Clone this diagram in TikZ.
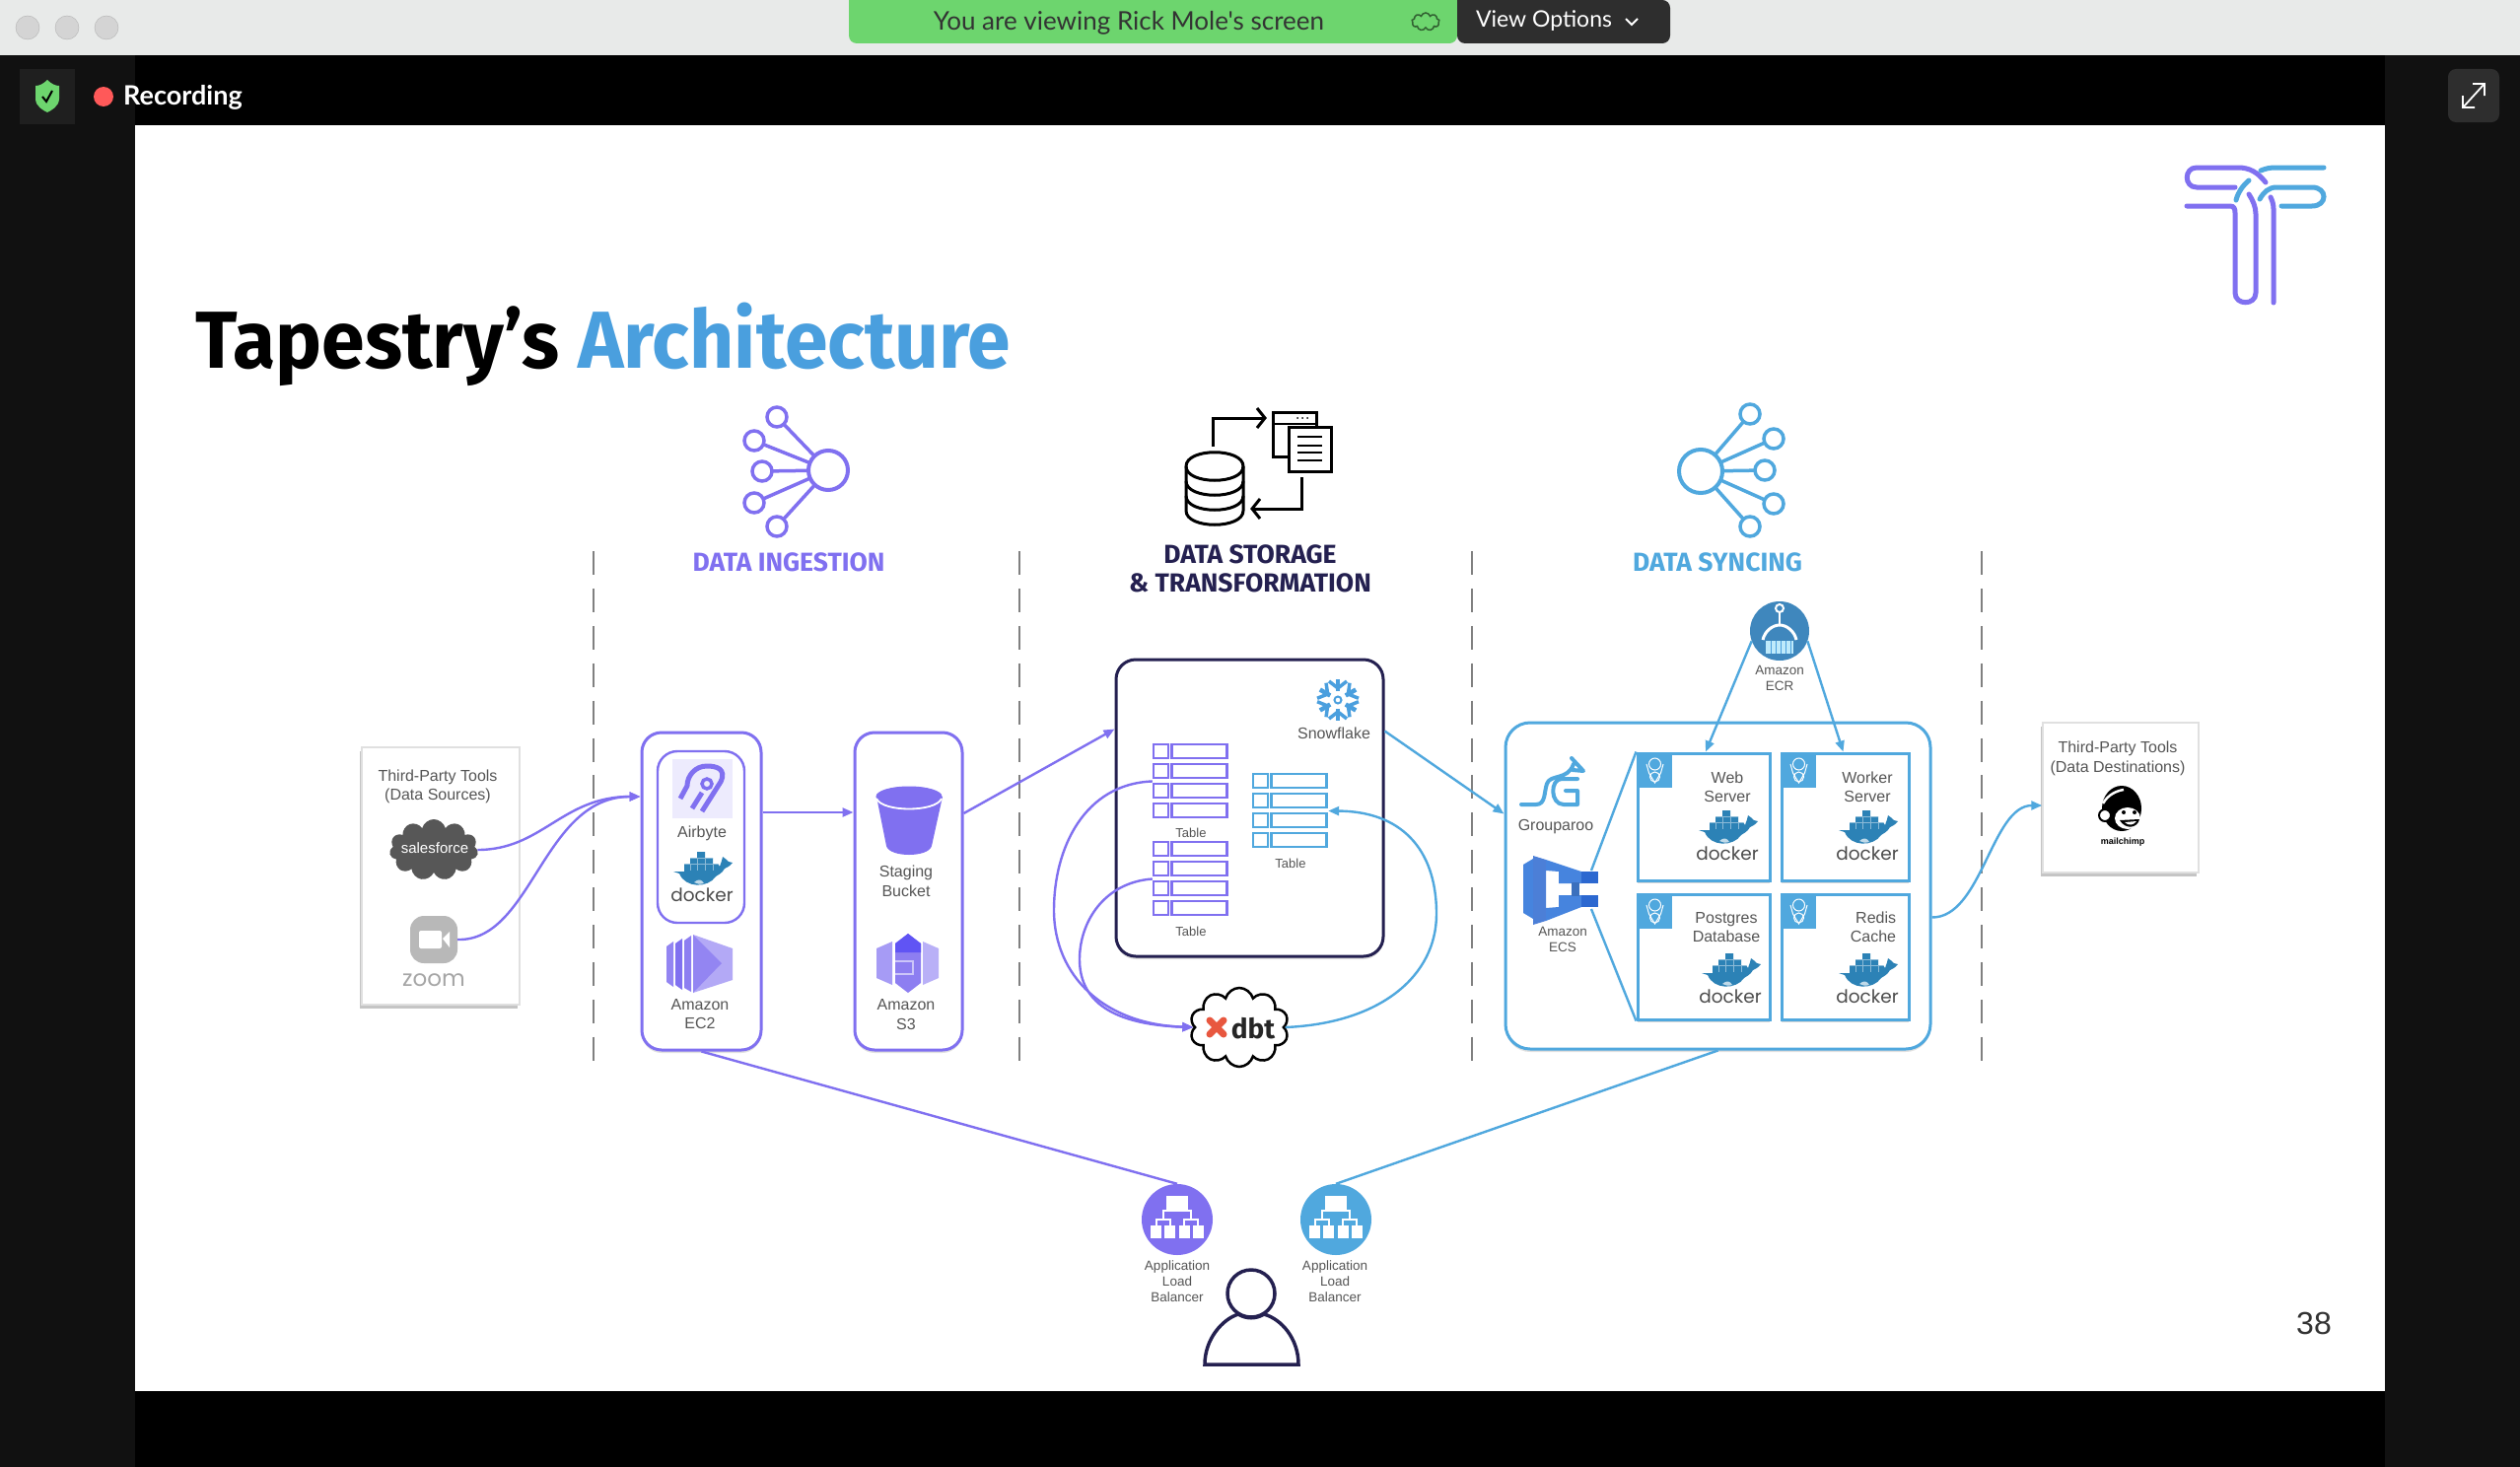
\documentclass[tikz,border=0pt]{standalone}
\usepackage{fontspec}
\setmainfont{Liberation Sans}
\newfontfamily\headfont{Fira Sans}
\newfontfamily\titlefont[FakeStretch=0.96]{Fira Sans}
\newfontfamily\uifont{Lato}
\newfontfamily\dockfont{Poppins}
\usepackage{tikz}
\definecolor{tappurple}{RGB}{128, 112, 240}
\definecolor{tapblue}{RGB}{80, 168, 222}
\definecolor{titleblue}{RGB}{74, 159, 222}
\definecolor{tapnavy}{RGB}{36, 32, 80}
\definecolor{labelgray}{RGB}{85, 85, 85}
\definecolor{dockerblue}{RGB}{44, 130, 182}
\definecolor{barlight}{RGB}{232, 234, 233}
\definecolor{stripdark}{RGB}{17, 17, 17}
\definecolor{bargreen}{RGB}{109, 213, 110}
\definecolor{ecsdark}{RGB}{44, 104, 208}
\definecolor{ecsmid}{RGB}{70, 132, 222}
\definecolor{dbtred}{RGB}{232, 87, 63}
\usetikzlibrary{
  arrows.meta,
  shadows,
  shapes.symbols,
}
\newcommand{\fsz}[2]{\fontsize{#1}{#2}\selectfont}
\tikzset{
  >={Triangle[length=11pt,width=9pt]},
  txt/.style={inner sep=0pt,align=center,text=labelgray,yshift=-1.5pt,font=\fsz{16}{19.5}},
  smalltxt/.style={inner sep=0pt,align=center,text=labelgray,yshift=-1.5pt,font=\fsz{13.5}{16}},
  headtxt/.style={inner sep=0pt,align=center,yshift=-1.5pt,font=\headfont\bfseries\fsz{26.5}{29}},
  toolbox/.style={draw=black!12,fill=white,line width=1.5,minimum width=#1,inner sep=0pt,
    drop shadow={shadow xshift=-2pt,shadow yshift=-4pt,fill=black!45}},
  roundbox/.style={draw=#1,fill=white,line width=3,rounded corners=20,inner sep=0pt,
    general shadow={shadow xshift=0pt,shadow yshift=-3pt,fill=black,opacity=.12}},
  srvbox/.style={draw=tapblue,fill=white,line width=3,inner sep=0pt,
    general shadow={shadow xshift=0pt,shadow yshift=-3pt,fill=black,opacity=.15}},
  tableslot/.style={minimum size=77,inner sep=0pt},
  flowp/.style={draw=tappurple,line width=2.4},
  flowb/.style={draw=tapblue,line width=2.4},
  sepline/.style={draw=black!50,line width=1.6,dash pattern=on 24pt off 13.9pt},
  pics/dockericon/.style={code={
    \fill[dockerblue] (-29,6) -- (-18,6) -- (-18,-2) -- (-12,-2) -- (-12,-8) -- (-5,-8) -- (-5,-14) -- (3,-14)
      -- (3,-8) -- (11,-8) -- (11,-2) -- (16,-2) -- (18,1) .. controls (19,-3) and (21,-6) .. (21,-9)
      .. controls (24,-7) and (26,-5) .. (27,-4) -- (31,-3) .. controls (28,1) and (25,2) .. (23,3)
      .. controls (20,8) and (17,9) .. (14,11) .. controls (6,23) and (-17,23) .. (-23,8) -- cycle;
    \draw[dockerblue!55!white,line width=.7] (-18,-2) -- (16,-2) (-12,-8) -- (11,-8) (-12,-2) -- (-12,5) (-5,-8) -- (-5,5) (3,-8) -- (3,5) (11,-2) -- (11,5);
    \fill[white!70!dockerblue] (-8,17) .. controls (-4,13) and (0,14) .. (2,18) .. controls (-2,19) and (-5,19) .. (-8,17) -- cycle;
    \node[inner sep=0pt,text=black!70,font=\dockfont\fsz{18.5}{18.5}] (-txt) at (0,30) {docker};
  }},
  pics/tableicon/.style={code={
    \foreach \r in {0,1,2,3} {
      \draw[#1,line width=2.4] (-37.5,{-37.5+\r*20}) rectangle +(15,14);
      \draw[#1,line width=2.4] (-19,{-37.5+\r*20}) rectangle +(56,14);
    }
  }},
  pics/badgeicon/.style={code={
    \fill[tapblue] (0,0) rectangle (35,35);
    \draw[white,line width=1] (17.5,11) circle [radius=6];
    \draw[white,line width=1] (17.5,24) circle [radius=5];
    \draw[white,line width=1] (9,11) -- (11.5,20) -- (17.5,30) -- (23.5,20) -- (26,11);
  }},
  pics/albicon/.style={code={
    \fill[#1] (0,0) circle [radius=36];
    \fill[white] (-11,-24) rectangle (11,-10);
    \draw[white,line width=1.5] (0,-10) -- (0,-9) (-14,1) -- (-14,-9) -- (14,-9) -- (14,1)
      (-21,6) -- (-21,0) -- (-7,0) -- (-7,6) (7,6) -- (7,0) -- (21,0) -- (21,6);
    \foreach \x in {-27,-13,2,16} \fill[white] (\x,6) rectangle +(11,13);
  }},
}

\begin{document}
\begin{tikzpicture}[x=1pt,y=-1pt]
        \useasboundingbox (0,0) rectangle (2556,1488);

        % window
        \fill[black] (0,0) rectangle (2556,1488);
        \fill[stripdark] (0,56) rectangle (137,1488);
        \fill[stripdark] (2419,56) rectangle (2556,1488);
        \fill[barlight] (0,0) rectangle (2556,56);
        \foreach \x in {28,68,108} \draw[fill=black!17,draw=black!30] (\x,28) circle [radius=12];
        \fill[white] (137,127) rectangle (2419,1411);

        % zoom bars
        \fill[bargreen] (861,0) {[rounded corners=8] -- (861,44) -- (1478,44)} -- (1478,0) -- cycle;
        \fill[black!82] (1478,0) {[rounded corners=8] -- (1478,44) -- (1694,44) -- (1694,0)} -- cycle;
        \node[inner sep=0pt,text=black!80,font=\uifont\fsz{26}{26}] (viewing) at (1145,23) {You are viewing Rick Mole's screen};
        \node[cloud,cloud puffs=9,aspect=1.6,draw=black!55!bargreen,line width=1.5,inner sep=0pt,minimum width=28,minimum height=18] (cloudicon) at (1446,22) {};
        \node[inner sep=0pt,text=white,font=\uifont\fsz{23}{23}] (viewopts) at (1566,21) {View Options};
        \draw[white,line width=1.8] (1649,19) -- (1655,25) -- (1661,19);
        \fill[black!88] (20,70) rectangle (76,126);
        \fill[bargreen] (48,81) .. controls (52,85) and (56,87) .. (60,87) -- (60,100)
          .. controls (60,108) and (52,112) .. (48,114) .. controls (44,112) and (36,108) .. (36,100) -- (36,87)
          .. controls (40,87) and (44,85) .. (48,81) -- cycle;
        \draw[black,line width=2] (43,98) -- (47,103) -- (53,92);
        \fill[red!65!white] (105,98) circle [radius=10];
        \node[inner sep=0pt,anchor=west,text=white,font=\uifont\bfseries\fsz{27}{27}] (recording) at (125,99) {Recording};
        \fill[black!82,rounded corners=8] (2483,70) rectangle (2535,124);
        \draw[white,line width=1.8] (2499,108) -- (2519,86) (2508,85) -- (2520,85) -- (2520,97) (2498,97) -- (2498,109) -- (2510,109);

        % title and logo
        \node[inner sep=0pt,anchor=base west,font=\titlefont\bfseries\fsz{82}{82}] (title) at (198,373) {Tapestry’s \textcolor{titleblue}{Architecture}};
        \node[inner sep=0pt,text=black!80,font=\fsz{32}{32}] (pagenum) at (2347,1342) {38};
        \draw[tappurple,line width=5,line cap=round] (2298,185) .. controls (2290,175) and (2282,170) .. (2270,170) -- (2228,170)
          .. controls (2215,170) and (2215,190) .. (2228,190) -- (2267,190);
        \draw[tappurple,line width=5,line cap=round] (2218,209) -- (2262,209) .. controls (2266,209) and (2267,212) .. (2267,216) -- (2267,297)
          .. controls (2267,310) and (2288,310) .. (2288,297) -- (2288,217) .. controls (2288,210) and (2285,203) .. (2281,197);
        \draw[tappurple,line width=5,line cap=round] (2306,307) -- (2306,212) .. controls (2306,208) and (2305,204) .. (2303,200);
        \draw[tapblue,line width=5,line cap=round] (2293,173) .. controls (2298,171) and (2302,170) .. (2308,170) -- (2357,170);
        \draw[tapblue,line width=5,line cap=round] (2292,202) .. controls (2296,195) and (2301,190) .. (2309,190) -- (2345,190)
          .. controls (2361,190) and (2361,209) .. (2345,209) -- (2314,209);
        \draw[tapblue,line width=5,line cap=round] (2268,203) .. controls (2270,195) and (2275,188) .. (2281,183);

        % column heads
        \foreach \x/\y in {788/423,765/447,773/478,765/510,788/534} \draw[tappurple,line width=3.5] (840,477) -- (\x,\y);
        \foreach \x/\y in {788/423,765/447,773/478,765/510,788/534} \draw[tappurple,line width=3.5,fill=white] (\x,\y) circle [radius=10];
        \draw[tappurple,line width=4,fill=white] (840,477) circle [radius=20];
        \foreach \x/\y in {1775/420,1799/445,1790/477,1799/511,1775/534} \draw[tapblue,line width=3.5] (1725,478) -- (\x,\y);
        \foreach \x/\y in {1775/420,1799/445,1790/477,1799/511,1775/534} \draw[tapblue,line width=3.5,fill=white] (\x,\y) circle [radius=10];
        \draw[tapblue,line width=4,fill=white] (1725,478) circle [radius=22];
        \draw[black,line width=3] (1203,473) .. controls (1203,454) and (1261,454) .. (1261,473) -- (1261,518)
          .. controls (1261,537) and (1203,537) .. (1203,518) -- cycle;
        \foreach \y in {473,488,503} \draw[black,line width=3] (1203,\y) .. controls (1203,{\y+19}) and (1261,{\y+19}) .. (1261,\y);
        \draw[black,line width=3,fill=white] (1291,418) rectangle (1335,463);
        \draw[black,line width=2] (1291,430) -- (1335,430);
        \foreach \x in {1316,1321,1326} \fill[black] (\x,424) circle [radius=1];
        \draw[black,line width=3,fill=white] (1307,433) rectangle (1350,478);
        \foreach \y in {443,452,459,467} \draw[black,line width=2.5] (1316,\y) -- (1341,\y);
        \draw[black,line width=3] (1230,453) -- (1230,424) -- (1281,424);
        \draw[black,line width=3] (1275,414) -- (1283,424) -- (1275,434);
        \draw[black,line width=3] (1320,484) -- (1320,516) -- (1272,516);
        \draw[black,line width=3] (1278,506) -- (1270,516) -- (1278,526);
        \node[headtxt,text=tappurple] (headin) at (800,569) {DATA INGESTION};
        \node[headtxt,text=tapnavy] (headst) at (1268,575.5) {DATA STORAGE\\\& TRANSFORMATION};
        \node[headtxt,text=tapblue] (headsy) at (1742,569) {DATA SYNCING};

        % column rules
        \foreach \x in {602,1034,1493,2010} \draw[sepline] (\x,559) -- (\x,1076);

        % boxes
        \node[toolbox=160,minimum height=261] (srcbox) at (447,888.5) {};
        \node[roundbox=tappurple,minimum width=121,minimum height=322] (airbox) at (711.5,904) {};
        \node[draw=tappurple,fill=white,line width=2.4,rounded corners=20,inner sep=0pt,minimum width=88,minimum height=174] (innerbox) at (711,849) {};
        \node[roundbox=tappurple,minimum width=109,minimum height=322] (bktbox) at (921.5,904) {};
        \node[roundbox=tapnavy,minimum width=271,minimum height=301] (sfbox) at (1267.5,819.5) {};
        \node[roundbox=tapblue,rounded corners=25,minimum width=431,minimum height=331] (syncbox) at (1742.5,898.5) {};
        \node[srvbox,minimum width=134,minimum height=129] (websrv) at (1728,828.5) {};
        \node[srvbox,minimum width=129,minimum height=129] (wrksrv) at (1871.5,828.5) {};
        \node[srvbox,minimum width=134,minimum height=127] (pgsrv) at (1728,970.5) {};
        \node[srvbox,minimum width=129,minimum height=127] (rdsrv) at (1871.5,970.5) {};
        \node[toolbox=158,minimum height=152] (dstbox) at (2151,809) {};

        % sources
        \node[txt] (srclabel) at (444,796.5) {Third-Party Tools\\(Data Sources)};
        \node[cloud,cloud puffs=11,cloud ignores aspect,fill=black!66,inner sep=0pt,minimum width=90,minimum height=62] (sfcloud) at (440,862) {};
        \node[inner sep=0pt,text=white,font=\fsz{15}{15}] (sftxt) at (441,860) {salesforce};
        \node[fill=black!28,rounded corners=14,inner sep=0pt,minimum size=48] (zoomicon) at (440,953) {};
        \fill[white,rounded corners=2] (425,944) rectangle (448,962);
        \fill[white] (449,952) -- (456,945) -- (456,961) -- cycle;
        \node[inner sep=0pt,text=black!35,font=\dockfont\fsz{23}{23}] (zoomtxt) at (440,994) {zoom};

        % airbyte box
        \fill[tappurple!14] (682,770) rectangle (743,830);
        \draw[tappurple,line width=5] (712,823) -- (731,793) .. controls (737,780) and (727,777) .. (717,777)
          .. controls (705,777) and (697,787) .. (697,797) -- (690,810);
        \draw[tappurple,line width=3.5] (717,795) circle [radius=5];
        \draw[tappurple,line width=5] (702,820) -- (712,804);
        \node[txt] (airlabel) at (712,844) {Airbyte};
        \pic (airdock) at (712,878) {dockericon};
        \fill[tappurple!85] (676,960) -- (683,955) -- (683,1001) -- (676,996) -- cycle;
        \fill[tappurple] (685,957) -- (692,952) -- (692,1004) -- (685,999) -- cycle;
        \fill[tappurple!90] (694,954) -- (701,949) -- (701,1006) -- (694,1002) -- cycle;
        \fill[tappurple!60] (703,948) -- (743,962) -- (743,994) -- (703,1007) -- cycle;
        \fill[tappurple!85] (703,948) -- (732,977) -- (703,1007) -- cycle;
        \node[txt] (eclabel) at (710,1027) {Amazon\\EC2};

        % bucket box
        \fill[tappurple] (889,808) -- (899,858) .. controls (902,870) and (942,870) .. (945,858) -- (956,808) -- cycle;
        \draw[tappurple,fill=tappurple,line width=1] (922,808) ellipse [x radius=33,y radius=10];
        \draw[white,line width=1.8] (889,810) .. controls (895,824) and (949,824) .. (955,810);
        \node[txt] (bktlabel) at (919,892.5) {Staging\\Bucket};
        \fill[tappurple!70] (889,962) -- (905,955) -- (905,999) -- (889,992) -- cycle;
        \fill[tappurple!55] (952,962) -- (936,955) -- (936,999) -- (952,992) -- cycle;
        \fill[tappurple!90] (921,947) -- (934,957) -- (934,997) -- (921,1007) -- (908,997) -- (908,957) -- cycle;
        \fill[blue!25!tappurple] (921,947) -- (934,957) -- (934,966) -- (908,966) -- (908,957) -- cycle;
        \draw[white!60!tappurple,line width=1.2] (908,975) -- (926,975) -- (926,988) -- (908,988);
        \node[txt] (s3label) at (919,1027.5) {Amazon\\S3};

        % snowflake box
        \foreach \a in {30,90,150,210,270,330} {
          \draw[titleblue,line width=4.5,rotate around={\a:(1357,710)}] (1366,710) -- (1378,710);
          \draw[titleblue,line width=3.5,rotate around={\a:(1357,710)}] (1376,701) -- (1369,710) -- (1376,719);
        }
        \draw[titleblue,line width=2] (1357,710) circle [radius=3.5];
        \node[txt] (sflabel) at (1353,742) {Snowflake};
        \node[tableslot] (tab1) at (1207.5,792.5) {};
        \pic at (1207.5,792.5) {tableicon=tappurple};
        \node[txt,font=\fsz{13}{13}] (tab1label) at (1208,843) {Table};
        \node[tableslot] (tab2) at (1207.5,891.5) {};
        \pic at (1207.5,891.5) {tableicon=tappurple};
        \node[txt,font=\fsz{13}{13}] (tab2label) at (1208,943) {Table};
        \node[tableslot] (tab3) at (1308.5,822.5) {};
        \pic at (1308.5,822.5) {tableicon=tapblue};
        \node[txt,font=\fsz{13}{13}] (tab3label) at (1309,874) {Table};
        \node[cloud,cloud puffs=10,aspect=1.25,draw=black,fill=white,line width=2.5,inner sep=0pt,minimum width=100,minimum height=80] (dbtcloud) at (1257,1042) {};
        \draw[dbtred,line width=7,line cap=round] (1227,1035) -- (1241,1049) (1241,1035) -- (1227,1049);
        \node[inner sep=0pt,text=black!85,font=\headfont\bfseries\fsz{28}{28}] (dbtlabel) at (1271,1043) {dbt};

        % syncing box
        \node[fill=titleblue!85!black,circle,inner sep=0pt,minimum size=60] (ecr) at (1805,640) {};
        \draw[white,line width=2] (1805,617) circle [radius=4];
        \draw[white,line width=2.5] (1805,621) -- (1805,634);
        \draw[white,line width=3] (1788,649) .. controls (1790,640) and (1798,634) .. (1805,634) .. controls (1812,634) and (1820,640) .. (1822,649);
        \fill[cyan!25!white] (1791,650) rectangle (1819,663);
        \foreach \x in {1796,1801,1806,1811,1816} \draw[titleblue,line width=.6] (\x,650) -- (\x,663);
        \node[smalltxt] (ecrlabel) at (1805,686) {Amazon\\ECR};
        \draw[tapblue,line width=4,line cap=round,line join=round] (1543,816) -- (1558,816) .. controls (1568,816) and (1566,803) .. (1569,795)
          .. controls (1572,785) and (1590,792) .. (1596,775) (1594,769) -- (1606,782) -- (1595,781);
        \draw[tapblue,line width=4,line cap=round,line join=round] (1600,790) -- (1584,790) .. controls (1572,790) and (1572,816) .. (1586,816) -- (1600,816) -- (1600,802) -- (1588,802);
        \node[txt] (grplabel) at (1578,837) {Grouparoo};
        \fill[ecsmid] (1545,877) -- (1555,871) -- (1555,932) -- (1545,926) -- cycle;
        \fill[ecsdark!85!white] (1555,868) -- (1568,872) -- (1568,934) -- (1555,938) -- cycle;
        \fill[ecsmid] (1568,872) -- (1604,884) -- (1604,896) -- (1581,896) -- (1581,884) -- (1568,883) -- cycle;
        \fill[ecsmid] (1568,934) -- (1604,920) -- (1604,908) -- (1581,908) -- (1581,920) -- (1568,921) -- cycle;
        \fill[ecsmid!85!black] (1594,895) rectangle (1602,909);
        \fill[ecsdark] (1604,884) rectangle (1621,896);
        \fill[ecsdark] (1604,908) rectangle (1621,920);
        \node[smalltxt] (ecslabel) at (1585,951) {Amazon\\ECS};

        \pic at (1661,764) {badgeicon};
        \pic at (1807,764) {badgeicon};
        \pic at (1661,907) {badgeicon};
        \pic at (1807,907) {badgeicon};
        \node[txt] (weblabel) at (1752,797) {Web\\Server};
        \node[txt] (wrklabel) at (1894,797) {Worker\\Server};
        \node[txt] (pglabel) at (1751,939) {Postgres\\Database};
        \node[txt] (rdlabel) at (1900,939) [align=right] {Redis\\Cache};
        \pic (webdock) at (1752,836) {dockericon};
        \pic (wrkdock) at (1894,836) {dockericon};
        \pic (pgdock) at (1755,981) {dockericon};
        \pic (rddock) at (1894,981) {dockericon};

        % destination
        \node[txt] (dstlabel) at (2148,768) {Third-Party Tools\\(Data Destinations)};
        \fill[black] (2152,820) ellipse [x radius=20,y radius=23];
        \draw[white,line width=2.5] (2133,815) .. controls (2138,806) and (2147,802) .. (2154,801);
        \draw[black,fill=white,line width=2] (2135,827) circle [radius=6];
        \fill[white] (2158,830) ellipse [x radius=13,y radius=11];
        \fill[black] (2154,824) circle [radius=2];
        \fill[black] (2165,824) circle [radius=2];
        \fill[black] (2150,832) .. controls (2156,842) and (2168,840) .. (2170,831) -- cycle;
        \fill[white] (2155,834) .. controls (2159,838) and (2164,837) .. (2167,833) -- cycle;
        \node[inner sep=0pt,text=black,font=\bfseries\fsz{9}{9}] (mclabel) at (2153,854) {mailchimp};

        % load balancers and user
        \pic at (1194,1237) {albicon=tappurple};
        \node[circle,inner sep=0pt,minimum size=72] (albp) at (1194,1237) {};
        \node[smalltxt] (albplabel) at (1194,1298) {Application\\Load\\Balancer};
        \pic at (1355,1237) {albicon=tapblue};
        \node[circle,inner sep=0pt,minimum size=72] (albb) at (1355,1237) {};
        \node[smalltxt] (albblabel) at (1354,1298) {Application\\Load\\Balancer};
        \draw[tapnavy,line width=3.5] (1269,1312) circle [radius=24];
        \draw[tapnavy,line width=3.5,fill=white] (1222,1384) .. controls (1222,1358) and (1240,1338) .. (1256,1333)
          .. controls (1264,1338) and (1274,1338) .. (1282,1333) .. controls (1300,1338) and (1317,1358) .. (1317,1384) -- cycle;

        % connectors
        \draw[flowp,->] (sfcloud.east) .. controls (550,862) and (570,808) .. ([yshift=96pt]airbox.west);
        \draw[flowp,->] (zoomicon.east) .. controls (540,955) and (550,808) .. ([yshift=96pt]airbox.west);
        \draw[flowp,->] ([yshift=80pt]airbox.east) -- ([yshift=80pt]bktbox.west);
        \draw[flowp,->] ([yshift=79pt]bktbox.east) -- ([yshift=80pt]sfbox.west);
        \draw[flowp,->] (tab1.west) .. controls (1100,795) and (1069,860) .. (1069,923) .. controls (1069,990) and (1120,1039) .. (dbtcloud.west);
        \draw[flowp,->] (tab2.west) .. controls (1120,895) and (1095,935) .. (1095,973) .. controls (1095,1010) and (1120,1039) .. (dbtcloud.west);
        \draw[flowb,->] (dbtcloud.east) .. controls (1400,1038) and (1457,990) .. (1457,927) .. controls (1457,860) and (1420,823) .. (tab3.east);
        \draw[flowb,->] ([yshift=78pt]sfbox.east) -- ([yshift=73pt]syncbox.west);
        \draw[flowb,->] (ecr.200) -- ([xshift=2pt]websrv.north);
        \draw[flowb,->] (ecr.-20) -- ([xshift=-2pt]wrksrv.north);
        \draw[flowb] (1614,883) -- (websrv.north west);
        \draw[flowb] (1614,922) -- (pgsrv.south west);
        \draw[flowb,->] ([yshift=-32pt]syncbox.east) .. controls (2010,931) and (2020,817) .. ([yshift=-8pt]dstbox.west);
        \draw[flowp] (airbox.south) -- (albp.north);
        \draw[flowb] (syncbox.south) -- (albb.north);
\end{tikzpicture}
\end{document}
